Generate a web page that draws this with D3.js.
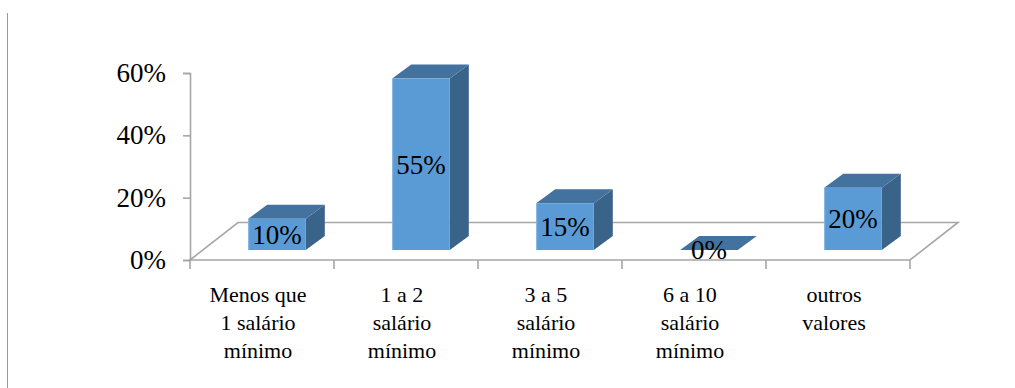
<!DOCTYPE html>
<html>
<head>
<meta charset="utf-8">
<script src="https://cdn.jsdelivr.net/npm/d3@7"></script>
<style>
  body { margin: 0; background: #fff; }
  #canvas text { font-family: 'Liberation Serif', 'Times New Roman', Tinos, serif; }
</style>
</head>
<body>
<svg id="canvas"></svg>
<script>
// data
const categories = [
    ['Menos que', '1 salário', 'mínimo'],
    ['1 a 2', 'salário', 'mínimo'],
    ['3 a 5', 'salário', 'mínimo'],
    ['6 a 10', 'salário', 'mínimo'],
    ['outros', 'valores']
];
const values = [0.10, 0.55, 0.15, 0.00, 0.20];
const labels = ['10%', '55%', '15%', '0%', '20%'];
const yTicks = [0, 0.2, 0.4, 0.6];

let width = 1015;
let height = 388;

let canvas = d3.select('#canvas')
    .attr('width', width)
    .attr('height', height);

// oblique depth offsets
const floorDepth = [48, -37.5];
const barFront = [15, -10];
const barBack = [34, -24];

const keys = d3.range(categories.length);

let xScale = d3.scaleBand()
    .domain(keys)
    .range([190, 910])
    .paddingInner(0.6)
    .paddingOuter(0.3);

let yScale = d3.scaleLinear()
    .domain([0, 0.6])
    .range([260, 73]);

const grey = '#a6a6a6';

// frame line at left
canvas.append('line')
    .attr('x1', 7.5).attr('x2', 7.5)
    .attr('y1', 13).attr('y2', height)
    .attr('stroke', '#9a9a9a')
    .attr('stroke-width', 1);

// floor
const x0 = 190, x1 = 910, y0 = yScale(0);
canvas.append('path')
    .attr('d', 'M' + x0 + ',' + y0 +
        'L' + (x0 + floorDepth[0]) + ',' + (y0 + floorDepth[1]) +
        'L' + (x1 + floorDepth[0]) + ',' + (y0 + floorDepth[1]) +
        'L' + x1 + ',' + y0 + 'Z')
    .attr('fill', 'none')
    .attr('stroke', grey)
    .attr('stroke-width', 1.6);

// y axis
let yAxis = d3.axisLeft(yScale)
    .tickValues(yTicks)
    .tickFormat(d3.format('.0%'))
    .tickSize(7)
    .tickPadding(17);

let yG = canvas.append('g')
    .attr('id', 'y-axis')
    .attr('transform', 'translate(' + x0 + ',0)')
    .call(yAxis)
    .attr('font-family', null);
yG.select('.domain').attr('stroke', grey).attr('stroke-width', 1.6);
yG.selectAll('.tick line').attr('stroke', grey).attr('stroke-width', 1.6);
yG.selectAll('.tick text')
    .style('font-size', '27px')
    .attr('fill', '#000');

// category ticks
canvas.selectAll('line.ctick')
    .data(d3.range(categories.length + 1))
    .enter()
    .append('line')
    .attr('class', 'ctick')
    .attr('x1', i => x0 + i * xScale.step())
    .attr('x2', i => x0 + i * xScale.step())
    .attr('y1', y0)
    .attr('y2', y0 + 9)
    .attr('stroke', grey)
    .attr('stroke-width', 1.6);

// category labels
const labelX = i => xScale(i) + xScale.bandwidth() / 2 - 4;
canvas.selectAll('text.cat')
    .data(keys)
    .enter()
    .append('text')
    .attr('class', 'cat')
    .attr('text-anchor', 'middle')
    .style('font-size', '22px')
    .attr('x', labelX)
    .attr('y', 302)
    .selectAll('tspan')
    .data(i => categories[i].map(t => ({ t: t, x: labelX(i) })))
    .enter()
    .append('tspan')
    .attr('x', d => d.x)
    .attr('dy', (d, j) => j === 0 ? 0 : 28)
    .text(d => d.t);

// bars
const bw = xScale.bandwidth();
const sideW = barBack[0] - barFront[0];
const sideH = barBack[1] - barFront[1];

let bars = canvas.selectAll('g.bar')
    .data(keys)
    .enter()
    .append('g')
    .attr('class', 'bar');

bars.each(function (i) {
    const g = d3.select(this);
    const fx = xScale(i) + barFront[0];
    const fb = yScale(0) + barFront[1];
    const ft = yScale(values[i]) + barFront[1];

    // side
    if (values[i] > 0) {
        g.append('path')
            .attr('d', 'M' + (fx + bw) + ',' + fb +
                'L' + (fx + bw + sideW) + ',' + (fb + sideH) +
                'L' + (fx + bw + sideW) + ',' + (ft + sideH) +
                'L' + (fx + bw) + ',' + ft + 'Z')
            .attr('fill', '#3a6389');
    }
    // top
    g.append('path')
        .attr('d', 'M' + fx + ',' + ft +
            'L' + (fx + sideW) + ',' + (ft + sideH) +
            'L' + (fx + bw + sideW) + ',' + (ft + sideH) +
            'L' + (fx + bw) + ',' + ft + 'Z')
        .attr('fill', '#43729f');
    // front
    if (values[i] > 0) {
        g.append('rect')
            .attr('x', fx)
            .attr('y', ft)
            .attr('width', bw)
            .attr('height', fb - ft)
            .attr('fill', '#5b9bd5');
        g.append('line')
            .attr('x1', fx + 0.5).attr('x2', fx + 0.5)
            .attr('y1', ft).attr('y2', fb)
            .attr('stroke', '#8cb8e6')
            .attr('stroke-width', 1);
    }
    g.append('text')
        .attr('x', fx + bw / 2)
        .attr('y', (ft + fb) / 2)
        .attr('dy', '0.35em')
        .attr('text-anchor', 'middle')
        .style('font-size', '27px')
        .text(labels[i]);
});
</script>
</body>
</html>
